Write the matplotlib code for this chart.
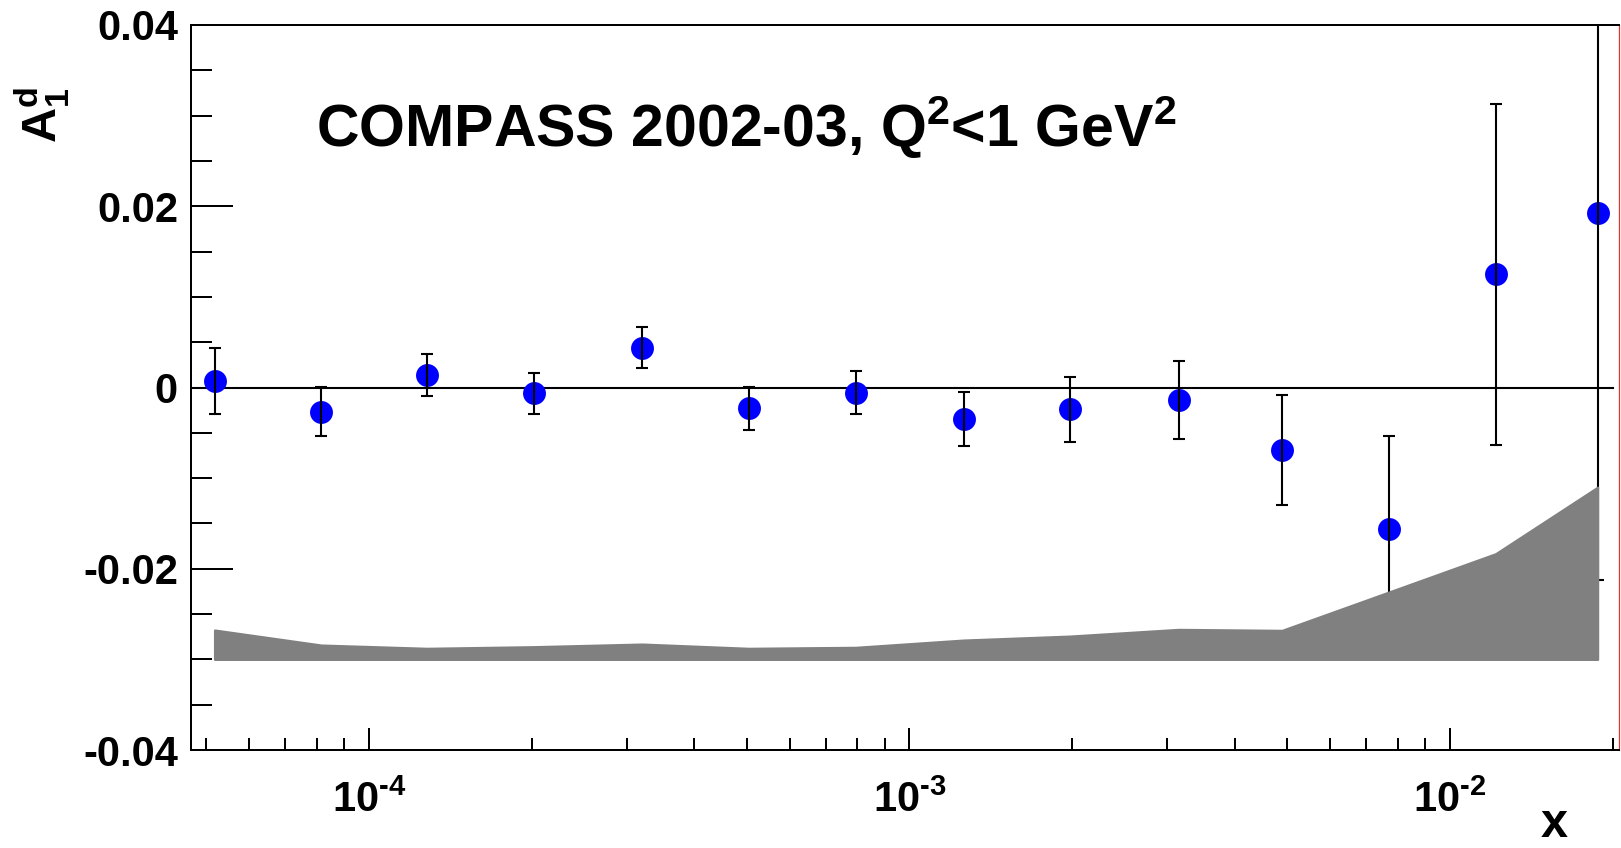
import matplotlib
matplotlib.use('Agg')
import matplotlib.pyplot as plt
import numpy as np
from matplotlib.ticker import LogLocator, NullFormatter, MultipleLocator

plt.rcParams['font.family'] = ['Liberation Sans', 'DejaVu Sans']
plt.rcParams['font.weight'] = 'bold'
plt.rcParams['mathtext.fontset'] = 'custom'
plt.rcParams['mathtext.rm'] = 'Liberation Sans:bold'
plt.rcParams['mathtext.it'] = 'Liberation Sans:bold'
plt.rcParams['mathtext.bf'] = 'Liberation Sans:bold'
plt.rcParams['mathtext.sf'] = 'Liberation Sans:bold'
plt.rcParams['mathtext.default'] = 'rm'

# ---- data ----
x_vals = [5.18e-5, 8.16e-5, 1.28e-4, 2.02e-4, 3.20e-4, 5.04e-4, 7.96e-4,
          1.259e-3, 1.983e-3, 3.147e-3, 4.89e-3, 7.71e-3, 1.215e-2, 1.876e-2]
a1_vals = [0.00072, -0.00267, 0.00138, -0.00064, 0.00439, -0.00230, -0.00057,
           -0.00351, -0.00240, -0.00138, -0.00690, -0.01565, 0.01252, 0.01922]
stat_err = [0.00359, 0.00268, 0.00237, 0.00228, 0.00226, 0.00240, 0.00239,
            0.00298, 0.00359, 0.00432, 0.00612, 0.01030, 0.01881, 0.04046]
syst_err = [0.00324, 0.00158, 0.00122, 0.00140, 0.00169, 0.00122, 0.00133,
            0.00213, 0.00257, 0.00331, 0.00320, 0.00743, 0.01166, 0.01900]
syst_base = -0.03

x_ticks = [1e-4, 1e-3, 1e-2]
x_ticklabels = [r'$10^{\text{-}4}$', r'$10^{\text{-}3}$', r'$10^{\text{-}2}$']
y_ticks = [0.04, 0.02, 0.0, -0.02, -0.04]
y_ticklabels = ['0.04', '0.02', '0', '-0.02', '-0.04']
title_text = r'COMPASS 2002-03, Q$^{2}$<1 GeV$^{2}$'
y_title = r'$A_{1}^{d}$'
x_title = 'x'
x_range = (4.685e-5, 0.02055)
y_range = (-0.04, 0.04)
zero_line_end = 0.02

# ---- figure ----
W, H = 1621, 848
fig = plt.figure(figsize=(W / 100, H / 100), dpi=100)
ax = fig.add_axes([191 / W, 1 - 750 / H, (1619 - 191) / W, (750 - 25) / H])
ax.set_xscale('log')
ax.set_xlim(*x_range)
ax.set_ylim(*y_range)

# zero line
frac = (np.log10(zero_line_end) - np.log10(x_range[0])) / (np.log10(x_range[1]) - np.log10(x_range[0]))
ax.axhline(0, xmin=0, xmax=frac, color='black', lw=1.5, zorder=1)

# points + stat errors
ax.plot(x_vals, a1_vals, 'o', color='#0000ff', ms=16.5, mew=0, zorder=2)
ax.errorbar(x_vals, a1_vals, yerr=stat_err, fmt='none', ecolor='black',
            elinewidth=1.5, capsize=4.3, capthick=1.5, zorder=3)

# systematic band
ax.fill_between(x_vals, [syst_base] * len(syst_err),
                [syst_base + s for s in syst_err],
                facecolor='#808080', edgecolor='#808080', lw=1.6, zorder=4)

# ticks
ax.set_xticks(x_ticks)
ax.set_xticklabels(x_ticklabels)
ax.xaxis.set_minor_locator(LogLocator(base=10, subs=[2, 3, 4, 5, 6, 7, 8, 9], numticks=20))
ax.xaxis.set_minor_formatter(NullFormatter())
ax.set_yticks(y_ticks)
ax.set_yticklabels(y_ticklabels)
ax.yaxis.set_minor_locator(MultipleLocator(0.005))

ax.tick_params(axis='both', which='both', direction='in', top=False, right=False,
               width=1.44, colors='black', labelsize=30)
ax.tick_params(axis='x', which='major', length=15.8, pad=22)
ax.tick_params(axis='x', which='minor', length=8.4)
ax.tick_params(axis='y', which='major', length=30, pad=9.4)
ax.tick_params(axis='y', which='minor', length=15)
for lab in ax.get_xticklabels() + ax.get_yticklabels():
    lab.set_fontweight('bold')

for s in ['left', 'bottom', 'top']:
    ax.spines[s].set_linewidth(1.44)
    ax.spines[s].set_color('black')
ax.spines['right'].set_linewidth(0.9)
ax.spines['right'].set_color('#e03030')

# texts
fig.text(316 / W, 1 - 147 / H, title_text, fontsize=42.5, fontweight='bold',
         ha='left', va='baseline')
fig.text(42 / W, 1 - 143 / H, y_title, fontsize=35, rotation=90,
         ha='center', va='bottom')
fig.text(1554 / W, 1 - 837 / H, x_title, fontsize=35, fontweight='bold',
         ha='center', va='baseline')

fig.savefig('out.png', dpi=100)
